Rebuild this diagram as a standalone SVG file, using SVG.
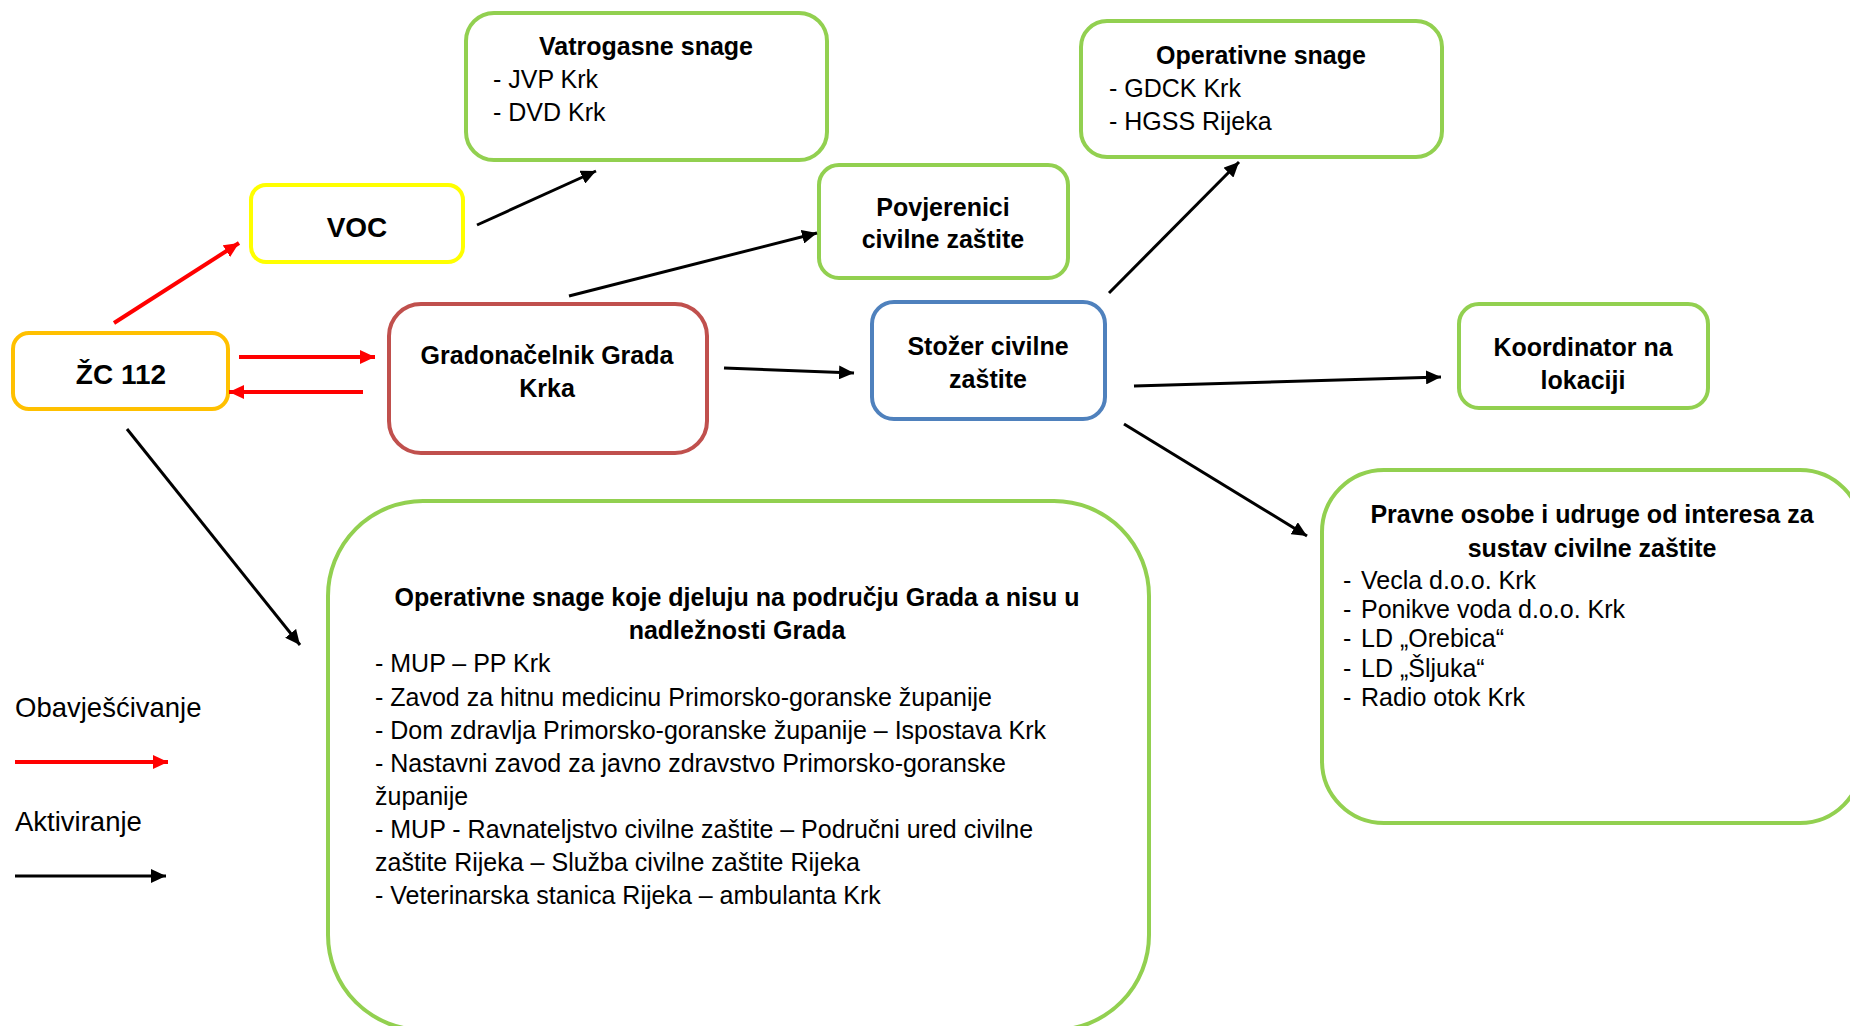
<svg xmlns="http://www.w3.org/2000/svg" width="1850" height="1026" viewBox="0 0 1850 1026">
<style>
.box{fill:#FFFFFF;stroke-width:4}
.g{stroke:#92D050}
.t{font-family:"Liberation Sans",Arial,sans-serif;font-size:25px;fill:#000000}
.b{font-weight:bold}
.c{text-anchor:middle}
.big{font-size:28px}
.leg{font-size:27.5px}
.blk{stroke:#000000;stroke-width:3;fill:none;marker-end:url(#ab)}
.red{stroke:#FF0000;stroke-width:4;fill:none;marker-end:url(#ar)}
</style>
<defs>
<marker id="ab" markerUnits="userSpaceOnUse" markerWidth="16" markerHeight="14" refX="15" refY="7" orient="auto"><path d="M0,0 L15,7 L0,14 z" fill="#000000"/></marker>
<marker id="ar" markerUnits="userSpaceOnUse" markerWidth="16" markerHeight="14" refX="15" refY="7" orient="auto"><path d="M0,0 L15,7 L0,14 z" fill="#FF0000"/></marker>
</defs>
<rect width="1850" height="1026" fill="#FFFFFF"/>

<g id="vatrogasne">
<rect class="box g" x="466" y="13" width="361" height="147" rx="28"/>
<text class="t b c" x="646" y="55">Vatrogasne snage</text>
<text class="t" x="493" y="88">- JVP Krk</text>
<text class="t" x="493" y="121">- DVD Krk</text>
</g>

<g id="operativne-top">
<rect class="box g" x="1081" y="21" width="361" height="136" rx="26"/>
<text class="t b c" x="1261" y="64">Operativne snage</text>
<text class="t" x="1109" y="97">- GDCK Krk</text>
<text class="t" x="1109" y="130">- HGSS Rijeka</text>
</g>

<g id="voc">
<rect class="box" x="251" y="185" width="212" height="77" rx="15" stroke="#FFFF00"/>
<text class="t b c big" x="357" y="237">VOC</text>
</g>

<g id="povjerenici">
<rect class="box g" x="819" y="165" width="249" height="113" rx="20"/>
<text class="t b c" x="943" y="216">Povjerenici</text>
<text class="t b c" x="943" y="248">civilne zaštite</text>
</g>

<g id="zc112">
<rect class="box" x="13" y="333" width="215" height="76" rx="16" stroke="#FFC000"/>
<text class="t b c big" x="121" y="384">ŽC 112</text>
</g>

<g id="gradonacelnik">
<rect class="box" x="389" y="304" width="318" height="149" rx="32" stroke="#C0504D"/>
<text class="t b c" x="547" y="364">Gradonačelnik Grada</text>
<text class="t b c" x="547" y="397">Krka</text>
</g>

<g id="stozer">
<rect class="box" x="872" y="302" width="233" height="117" rx="22" stroke="#4F81BD"/>
<text class="t b c" x="988" y="355">Stožer civilne</text>
<text class="t b c" x="988" y="388">zaštite</text>
</g>

<g id="koordinator">
<rect class="box g" x="1459" y="304" width="249" height="104" rx="20"/>
<text class="t b c" x="1583" y="356">Koordinator na</text>
<text class="t b c" x="1583" y="389">lokaciji</text>
</g>

<g id="pravne">
<rect class="box g" x="1322" y="470" width="540" height="353" rx="62"/>
<text class="t b c" x="1592" y="523">Pravne osobe i udruge od interesa za</text>
<text class="t b c" x="1592" y="557">sustav civilne zaštite</text>
<text class="t" x="1343" y="589">-</text><text class="t" x="1361" y="589">Vecla d.o.o. Krk</text>
<text class="t" x="1343" y="618">-</text><text class="t" x="1361" y="618">Ponikve voda d.o.o. Krk</text>
<text class="t" x="1343" y="647">-</text><text class="t" x="1361" y="647">LD „Orebica“</text>
<text class="t" x="1343" y="677">-</text><text class="t" x="1361" y="677">LD „Šljuka“</text>
<text class="t" x="1343" y="706">-</text><text class="t" x="1361" y="706">Radio otok Krk</text>
</g>

<g id="operativne-grad">
<rect class="box g" x="328" y="501" width="821" height="529" rx="95"/>
<text class="t b c" x="737" y="606">Operativne snage koje djeluju na području Grada a nisu u</text>
<text class="t b c" x="737" y="639">nadležnosti Grada</text>
<text class="t" x="375" y="672">- MUP – PP Krk</text>
<text class="t" x="375" y="706">- Zavod za hitnu medicinu Primorsko-goranske županije</text>
<text class="t" x="375" y="739">- Dom zdravlja Primorsko-goranske županije – Ispostava Krk</text>
<text class="t" x="375" y="772">- Nastavni zavod za javno zdravstvo Primorsko-goranske</text>
<text class="t" x="375" y="805">županije</text>
<text class="t" x="375" y="838">- MUP - Ravnateljstvo civilne zaštite – Područni ured civilne</text>
<text class="t" x="375" y="871">zaštite Rijeka – Služba civilne zaštite Rijeka</text>
<text class="t" x="375" y="904">- Veterinarska stanica Rijeka – ambulanta Krk</text>
</g>

<g id="legend">
<text class="t leg" x="15" y="717">Obavješćivanje</text>
<line class="red" x1="15" y1="762" x2="168" y2="762"/>
<text class="t leg" x="15" y="831">Aktiviranje</text>
<line class="blk" x1="15" y1="876" x2="166" y2="876"/>
</g>

<g id="connectors">
<line class="red" x1="114" y1="323" x2="239" y2="243"/>
<line class="red" x1="239" y1="357" x2="375" y2="357"/>
<line class="red" x1="363" y1="392" x2="229" y2="392"/>
<line class="blk" x1="477" y1="225" x2="596" y2="171"/>
<line class="blk" x1="569" y1="296" x2="817" y2="233"/>
<line class="blk" x1="724" y1="368" x2="854" y2="373"/>
<line class="blk" x1="127" y1="429" x2="300" y2="645"/>
<line class="blk" x1="1109" y1="293" x2="1239" y2="162"/>
<line class="blk" x1="1134" y1="386" x2="1441" y2="377"/>
<line class="blk" x1="1124" y1="424" x2="1307" y2="536"/>
</g>
</svg>
